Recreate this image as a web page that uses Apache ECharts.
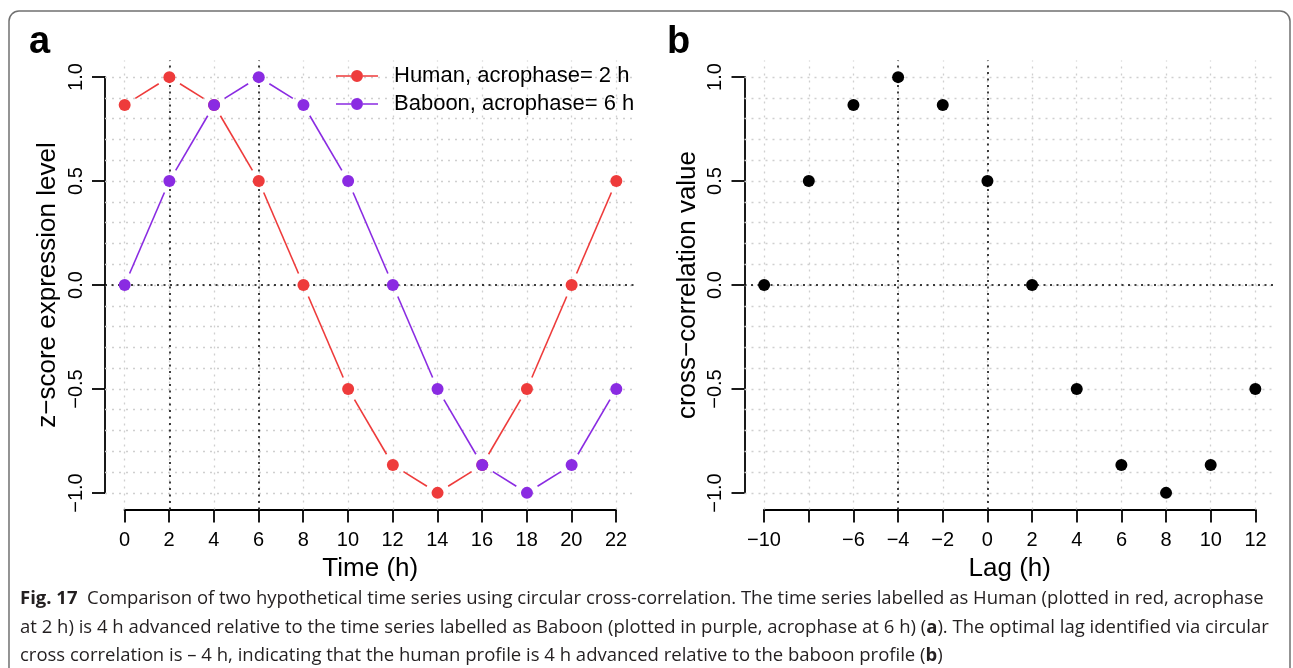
<!DOCTYPE html>
<html>
<head>
<meta charset="utf-8">
<script src="https://cdn.jsdelivr.net/npm/echarts@6/dist/echarts.min.js"></script>
<style>
  html, body { margin: 0; padding: 0; background: #fff; }
  #chart { width: 1293px; height: 668px; }
</style>
</head>
<body>
<div id="chart"></div>
<script>
// panel a: expression profiles
const timeH = [0, 2, 4, 6, 8, 10, 12, 14, 16, 18, 20, 22];
const human = [0.866, 1.0, 0.866, 0.5, 0.0, -0.5, -0.866, -1.0, -0.866, -0.5, 0.0, 0.5];
const baboon = [0.0, 0.5, 0.866, 1.0, 0.866, 0.5, 0.0, -0.5, -0.866, -1.0, -0.866, -0.5];

// panel b: circular cross-correlation
const lagH = [-10, -8, -6, -4, -2, 0, 2, 4, 6, 8, 10, 12];
const xcorr = [0.0, 0.5, 0.866, 1.0, 0.866, 0.5, 0.0, -0.5, -0.866, -1.0, -0.866, -0.5];

// tick labels
const timeTicks = ['0', '2', '4', '6', '8', '10', '12', '14', '16', '18', '20', '22'];
const lagTicks = ['\u221210', '', '\u22126', '\u22124', '\u22122', '0', '2', '4', '6', '8', '10', '12'];
const yTicks = ['\u22121.0', '\u22120.5', '0.0', '0.5', '1.0'];
const yTickVals = [-1, -0.5, 0, 0.5, 1];

const RED = '#EE3B3B';
const PURPLE = '#8A2BE2';
const FONT = 'Liberation Sans';
// legend key: short line, dot, short line
const KEY_ICON = 'path://M0,5.2L15,5.2L15,6.8L0,6.8Z M27,5.2L42,5.2L42,6.8L27,6.8Z M15,6a6,6 0 1,1 12,0a6,6 0 1,1 -12,0Z';

const chart = echarts.init(document.getElementById('chart'));

function tickLabel(vals, labels) {
  return v => {
    const i = vals.findIndex(t => Math.abs(t - v) < 1e-6);
    return i < 0 ? '' : labels[i];
  };
}

// gray dotted grid (every 2 h, every 0.1) plus black dotted reference lines
function gridLines(xFrom, xTo, blackX) {
  const data = [];
  for (let x = xFrom; x <= xTo; x += 2) data.push({ xAxis: x });
  for (let k = -10; k <= 10; k++) data.push({ yAxis: k / 10 });
  const gray = { type: [2, 5], color: '#cfcfcf', width: 1.3 };
  const black = { type: [2, 4.5], color: '#000', width: 1.5 };
  data.forEach(d => { d.lineStyle = gray; });
  blackX.forEach(x => data.push({ xAxis: x, lineStyle: black }));
  data.push({ yAxis: 0, lineStyle: black });
  return data;
}

function gridSeries(idx, xFrom, xTo, blackX) {
  return {
    type: 'scatter', xAxisIndex: idx, yAxisIndex: idx, data: [], z: 1, silent: true,
    markLine: {
      z: 1, silent: true, symbol: 'none', label: { show: false }, animation: false,
      emphasis: { disabled: true },
      data: gridLines(xFrom, xTo, blackX)
    }
  };
}

// connecting segments with a gap round each point (R type = "b")
function segSeries(xs, ys, color) {
  return {
    type: 'custom', xAxisIndex: 0, yAxisIndex: 0, z: 2, silent: true,
    data: xs.map((x, i) => [x, ys[i]]),
    renderItem: (params, api) => {
      const i = params.dataIndex;
      if (i >= xs.length - 1) return null;
      const a = api.coord([xs[i], ys[i]]);
      const b = api.coord([xs[i + 1], ys[i + 1]]);
      const dx = b[0] - a[0], dy = b[1] - a[1];
      const len = Math.sqrt(dx * dx + dy * dy);
      const gap = 12.5;
      if (len <= 2 * gap) return null;
      const ux = dx / len, uy = dy / len;
      return {
        type: 'line',
        shape: { x1: a[0] + ux * gap, y1: a[1] + uy * gap, x2: b[0] - ux * gap, y2: b[1] - uy * gap },
        style: { stroke: color, lineWidth: 1.6 }
      };
    }
  };
}

function dotSeries(name, xs, ys, color, idx) {
  return {
    name: name, type: 'scatter', xAxisIndex: idx, yAxisIndex: idx, z: 3,
    data: xs.map((x, i) => [x, ys[i]]),
    symbol: 'circle', symbolSize: 12,
    itemStyle: { color: color, opacity: 1 },
    emphasis: { disabled: true }, animation: false
  };
}

const axisCommon = {
  axisLine: { onZero: false, lineStyle: { color: '#000', width: 1.8 } },
  axisTick: { length: 13, lineStyle: { color: '#000', width: 1.8 } },
  splitLine: { show: false }
};

function hiddenAxis(min, max, gi) {
  return { type: 'value', gridIndex: gi, min: min, max: max, show: false, splitLine: { show: false } };
}

function xAxisShown(gi, min, max, labels, name) {
  return Object.assign({
    type: 'value', gridIndex: gi, min: min, max: max, interval: 2, offset: 16.5,
    name: name, nameLocation: 'middle', nameGap: 39,
    nameTextStyle: { fontFamily: FONT, fontSize: 26, color: '#000' },
    axisLabel: {
      fontFamily: FONT, fontSize: 20, color: '#000', margin: 21,
      formatter: tickLabel(gi === 1 ? timeH : lagH, labels)
    }
  }, axisCommon);
}

function yAxisShown(gi, name) {
  return Object.assign({
    type: 'value', gridIndex: gi, min: -1, max: 1, interval: 0.5, offset: 19.5,
    name: name, nameLocation: 'middle', nameGap: 44, nameRotate: 90,
    nameTextStyle: { fontFamily: FONT, fontSize: 26, color: '#000' },
    axisLabel: {
      fontFamily: FONT, fontSize: 20, color: '#000', margin: 19, rotate: 90,
      formatter: tickLabel(yTickVals, yTicks)
    }
  }, axisCommon);
}

const capRich = { b: { fontWeight: 'bold', fontFamily: 'Open Sans', fontSize: 18.5 } };
function captionLine(text, top) {
  return {
    type: 'text', left: 20, top: top,
    style: { text: text, font: '18.5px "Open Sans"', fill: '#231f20', rich: capRich }
  };
}

const option = {
  backgroundColor: '#fff',
  animation: false,
  textStyle: { fontFamily: FONT },
  grid: [
    { left: 105, top: 60.5, width: 531, height: 449 },
    { left: 124.5, top: 77, width: 491.5, height: 416 },
    { left: 744.5, top: 60.5, width: 530.5, height: 449 },
    { left: 764, top: 77, width: 491.5, height: 416 }
  ],
  xAxis: [
    hiddenAxis(-0.88, 22.88, 0),
    xAxisShown(1, 0, 22, timeTicks, 'Time (h)'),
    hiddenAxis(-10.88, 12.88, 2),
    xAxisShown(3, -10, 12, lagTicks, 'Lag (h)')
  ],
  yAxis: [
    hiddenAxis(-1.08, 1.08, 0),
    yAxisShown(1, 'z\u2212score expression level'),
    hiddenAxis(-1.08, 1.08, 2),
    yAxisShown(3, 'cross\u2212correlation value')
  ],
  legend: {
    orient: 'vertical', left: 331, top: 60, itemGap: 6,
    itemWidth: 42, itemHeight: 12, icon: KEY_ICON,
    data: ['Human, acrophase= 2 h', 'Baboon, acrophase= 6 h'],
    textStyle: { fontFamily: FONT, fontSize: 22, color: '#000', padding: [0, 0, 0, 11] },
    selectedMode: false
  },
  series: [
    gridSeries(0, 0, 22, [2, 6]),
    segSeries(timeH, human, RED),
    segSeries(timeH, baboon, PURPLE),
    dotSeries('Human, acrophase= 2 h', timeH, human, RED, 0),
    dotSeries('Baboon, acrophase= 6 h', timeH, baboon, PURPLE, 0),
    gridSeries(2, -10, 12, [-4, 0]),
    {
      type: 'scatter', xAxisIndex: 2, yAxisIndex: 2, z: 3,
      data: lagH.map((x, i) => [x, xcorr[i]]),
      symbol: 'circle', symbolSize: 12,
      itemStyle: { color: '#000', opacity: 1 }, emphasis: { disabled: true }
    }
  ],
  graphic: [
    {
      type: 'rect', silent: true, z: -1,
      shape: { x: 9, y: 11, width: 1281, height: 720, r: 10 },
      style: { fill: 'none', stroke: '#707070', lineWidth: 1.5 }
    },
    { type: 'text', left: 29, top: 24, style: { text: 'a', font: 'bold 38px "Liberation Sans"', fill: '#000' } },
    { type: 'text', left: 667, top: 24, style: { text: 'b', font: 'bold 38px "Liberation Sans"', fill: '#000' } },
    captionLine('{b|Fig. 17}  Comparison of two hypothetical time series using circular cross-correlation. The time series labelled as Human (plotted in red, acrophase', 589),
    captionLine('at 2 h) is 4 h advanced relative to the time series labelled as Baboon (plotted in purple, acrophase at 6 h) ({b|a}). The optimal lag identified via circular', 618),
    captionLine('cross correlation is \u2013 4 h, indicating that the human profile is 4 h advanced relative to the baboon profile ({b|b})', 646)
  ]
};

chart.setOption(option);
</script>
</body>
</html>
